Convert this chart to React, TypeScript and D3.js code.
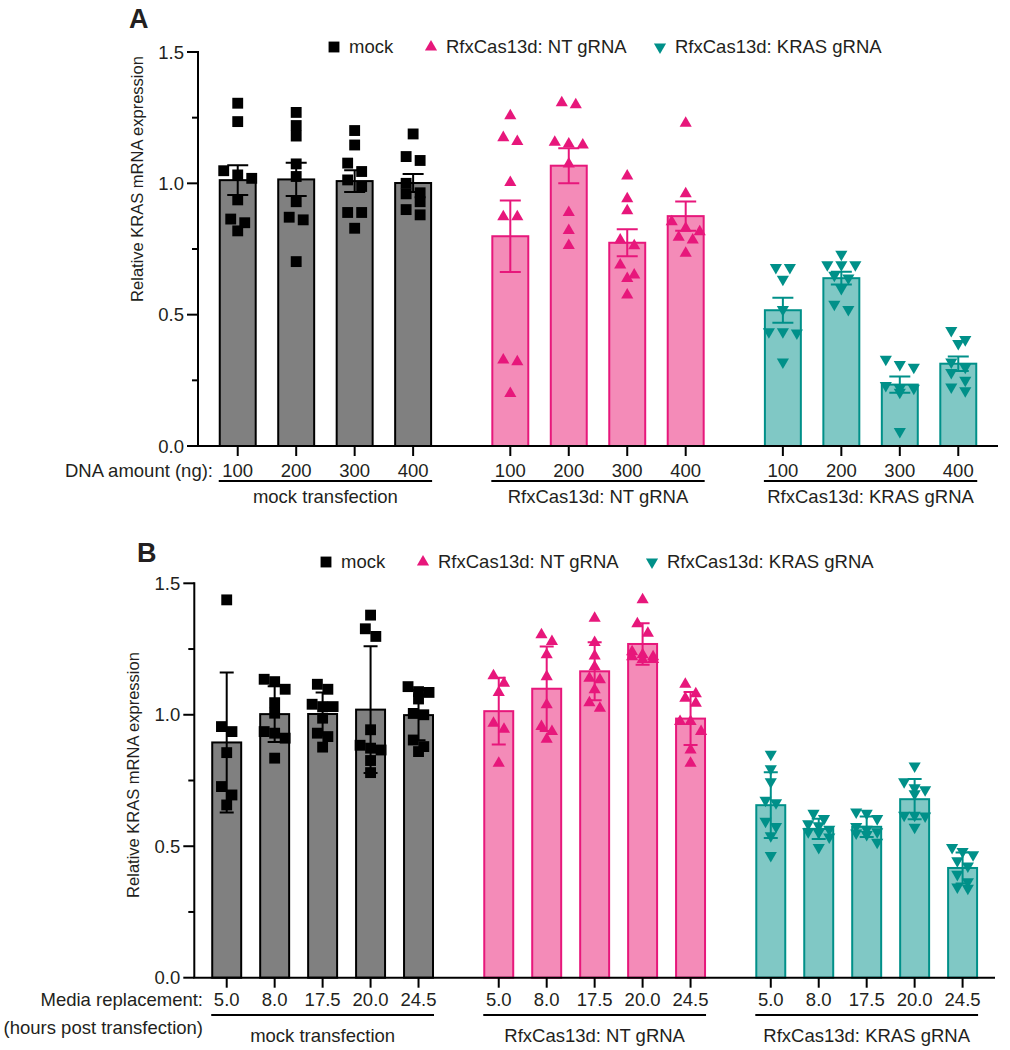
import React from "react";
import * as d3 from "d3";

// ---- data ----
const groupLabels = ["mock transfection", "RfxCas13d: NT gRNA", "RfxCas13d: KRAS gRNA"];
const legendLabels = ["mock", "RfxCas13d: NT gRNA", "RfxCas13d: KRAS gRNA"];
const dnaAmounts = ["100", "200", "300", "400"];
const mediaHours = ["5.0", "8.0", "17.5", "20.0", "24.5"];
const yTicks = [0, 0.5, 1.0, 1.5];
const yMinorTicks = [0.25, 0.75, 1.25];

// panel A: relative KRAS mRNA per DNA amount (mean +/- SEM)
const mockDna = [
  [1.305, 1.235, 1.048, 1.032, 1.019, 0.937, 0.864, 0.85, 0.819],
  [1.27, 1.22, 1.18, 1.074, 1.026, 0.93, 0.871, 0.861, 0.702],
  [1.201, 1.146, 1.077, 1.045, 1.013, 0.988, 0.889, 0.889, 0.829],
  [1.188, 1.102, 1.087, 1.0, 0.96, 0.964, 0.93, 0.9, 0.88]
];
const ntDna = [
  [1.257, 1.174, 1.159, 1.003, 0.873, 0.873, 0.327, 0.321, 0.2],
  [1.307, 1.299, 1.156, 1.15, 1.146, 1.074, 0.889, 0.82, 0.763],
  [1.028, 0.941, 0.896, 0.784, 0.762, 0.689, 0.651, 0.638, 0.575],
  [1.229, 0.96, 0.854, 0.829, 0.816, 0.795, 0.784, 0.734]
];
const krasDna = [
  [0.68, 0.68, 0.635, 0.52, 0.435, 0.43, 0.435, 0.32],
  [0.73, 0.69, 0.69, 0.69, 0.65, 0.64, 0.6, 0.54, 0.52],
  [0.33, 0.3, 0.31, 0.23, 0.22, 0.22, 0.205, 0.055],
  [0.44, 0.405, 0.39, 0.32, 0.3, 0.28, 0.25, 0.225, 0.21]
];

// panel B: relative KRAS mRNA per media replacement time (mean +/- SD)
const mockMedia = [
  [1.437, 0.955, 0.936, 0.856, 0.727, 0.695, 0.657],
  [1.135, 1.126, 1.097, 1.046, 1.006, 0.936, 0.93, 0.911, 0.835],
  [1.116, 1.097, 1.04, 1.031, 1.031, 0.987, 0.93, 0.917, 0.877],
  [1.379, 1.327, 1.298, 0.943, 0.884, 0.873, 0.866, 0.826, 0.78],
  [1.107, 1.088, 1.085, 1.06, 1.005, 1.0, 0.904, 0.879, 0.86]
];
const ntMedia = [
  [1.148, 1.12, 1.085, 0.968, 0.945, 0.816],
  [1.304, 1.279, 1.228, 1.145, 1.038, 0.955, 0.936, 0.907],
  [1.367, 1.275, 1.224, 1.183, 1.139, 1.133, 1.095, 1.046, 1.025],
  [1.437, 1.346, 1.31, 1.24, 1.228, 1.221, 1.221, 1.21, 1.21],
  [1.116, 1.08, 1.063, 1.044, 0.974, 0.974, 0.936, 0.866, 0.816]
];
const krasMedia = [
  [0.85, 0.795, 0.745, 0.675, 0.665, 0.595, 0.575, 0.54, 0.465],
  [0.625, 0.605, 0.585, 0.578, 0.565, 0.555, 0.552, 0.535, 0.495],
  [0.63, 0.625, 0.605, 0.575, 0.565, 0.555, 0.55, 0.545, 0.515],
  [0.805, 0.745, 0.722, 0.715, 0.7, 0.618, 0.618, 0.615, 0.572],
  [0.495, 0.48, 0.468, 0.445, 0.425, 0.393, 0.365, 0.345, 0.34]
];

const FONT = "'Liberation Sans', Arial, Helvetica, sans-serif";

const styles = [
  { fill: "#808080", stroke: "#000000", symbol: "square" },
  { fill: "#f48bb8", stroke: "#e7177b", symbol: "up" },
  { fill: "#80c8c5", stroke: "#009089", symbol: "down" }
];

function symbolPath(kind: string, scale = 1) {
  if (kind === "square") return d3.symbol(d3.symbolSquare, 118 * scale)()!;
  return d3.symbol(d3.symbolTriangle, 64 * scale)()!;
}

// GraphPad-like column scatter: points of similar height share a row
function swarmOffsets(values: number[], y: (v: number) => number, step: number, thresh: number, maxCols = 3) {
  const order = d3.range(values.length).sort((a, b) => values[b] - values[a]);
  const offsets = new Array(values.length).fill(0);
  let row: number[] = [];
  const flush = () => {
    row.forEach((idx, i) => (offsets[idx] = (i - (row.length - 1) / 2) * step));
    row = [];
  };
  for (const idx of order) {
    if (row.length && (Math.abs(y(values[idx]) - y(values[row[0]])) >= thresh || row.length >= maxCols)) flush();
    row.push(idx);
  }
  flush();
  return offsets;
}

type PanelProps = {
  letter: string;
  letterPos: [number, number];
  data: number[][][];
  categories: string[];
  err: "sem" | "sd";
  left: number;
  right: number;
  top: number;
  bottom: number;
  groupPadIn: number;
  groupPadOut: number;
  barPad: number;
  legendY: number;
  legendX: number[];
  titleY: number;
  tickBaseline: number;
  lineY: number;
  groupBaseline: number;
  xTitle: string[];
  xTitleRight: number;
  xTitleGap: number;
  capW: number;
  swarmStep: number;
};

function Panel(p: PanelProps) {
  const y = d3.scaleLinear().domain([0, 1.5]).range([p.bottom, p.top]);
  const xg = d3.scaleBand<string>().domain(groupLabels).range([p.left, p.right])
    .paddingInner(p.groupPadIn).paddingOuter(p.groupPadOut);
  const xi = d3.scaleBand<string>().domain(p.categories).range([0, xg.bandwidth()])
    .paddingInner(p.barPad).paddingOuter(p.barPad / 2);
  const bw = xi.bandwidth();

  return (
    <g fontFamily={FONT}>
      <text x={p.letterPos[0]} y={p.letterPos[1]} fontSize={27} fontWeight="bold" fill="#231f20">{p.letter}</text>

      {/* legend */}
      {legendLabels.map((l, i) => (
        <g key={l}>
          <path d={symbolPath(styles[i].symbol, 1)}
            transform={`translate(${p.legendX[i]},${p.legendY})${styles[i].symbol === "down" ? " rotate(180)" : ""}`}
            fill={styles[i].stroke} />
          <text x={p.legendX[i] + 15} y={p.legendY} dy="0.35em" fontSize={18.5} fill="#231f20">{l}</text>
        </g>
      ))}

      {/* y title */}
      <text transform={`translate(${p.left - 61},${p.titleY}) rotate(-90)`} textAnchor="middle" dy="0.35em"
        fontSize={16.5} fill="#231f20">Relative KRAS mRNA expression</text>

      {/* bars, error bars, points */}
      {groupLabels.map((g, gi) => (
        <g key={g}>
          {p.data[gi].map((vals, ci) => {
            const cx = xg(g)! + xi(p.categories[ci])! + bw / 2;
            const m = d3.mean(vals)!;
            const sd = d3.deviation(vals)!;
            const e = p.err === "sem" ? sd / Math.sqrt(vals.length) : sd;
            const st = styles[gi];
            const offs = swarmOffsets(vals, y, p.swarmStep, 10.5);
            return (
              <g key={ci}>
                <rect x={cx - bw / 2} y={y(m)} width={bw} height={y(0) - y(m)} fill={st.fill} stroke={st.stroke} strokeWidth={2} />
                <path d={`M${cx},${y(m + e)}V${y(m - e)}M${cx - p.capW / 2},${y(m + e)}H${cx + p.capW / 2}M${cx - p.capW / 2},${y(m - e)}H${cx + p.capW / 2}`}
                  stroke={st.stroke} strokeWidth={2} fill="none" />
                {vals.map((v, k) => (
                  <path key={k} d={symbolPath(st.symbol)}
                    transform={`translate(${cx + offs[k]},${y(v)})${st.symbol === "down" ? " rotate(180)" : ""}`}
                    fill={st.stroke} />
                ))}
              </g>
            );
          })}
        </g>
      ))}

      {/* y axis */}
      <line x1={p.left} x2={p.left} y1={y(1.5) - 1} y2={y(0)} stroke="#000" strokeWidth={2} />
      {yTicks.map((t) => (
        <g key={t}>
          <line x1={p.left - 11} x2={p.left} y1={y(t)} y2={y(t)} stroke="#000" strokeWidth={2} />
          <text x={p.left - 14} y={y(t)} dy="0.36em" textAnchor="end" fontSize={18.5} fill="#231f20">{t.toFixed(1)}</text>
        </g>
      ))}
      {yMinorTicks.map((t) => (
        <line key={t} x1={p.left - 6} x2={p.left} y1={y(t)} y2={y(t)} stroke="#000" strokeWidth={2} />
      ))}

      {/* x axis */}
      <line x1={p.left - 1} x2={p.right} y1={y(0)} y2={y(0)} stroke="#000" strokeWidth={2} />
      {groupLabels.map((g) => (
        <g key={g}>
          {p.categories.map((c) => {
            const cx = xg(g)! + xi(c)! + bw / 2;
            return (
              <g key={c}>
                <line x1={cx} x2={cx} y1={y(0)} y2={y(0) + 10} stroke="#000" strokeWidth={2} />
                <text x={cx} y={p.tickBaseline} textAnchor="middle" fontSize={18.5} fill="#231f20">{c}</text>
              </g>
            );
          })}
          <line x1={xg(g)! + xi(p.categories[0])! - 1} x2={xg(g)! + xi(p.categories[p.categories.length - 1])! + bw + 1}
            y1={p.lineY} y2={p.lineY} stroke="#000" strokeWidth={2} />
          <text x={xg(g)! + xg.bandwidth() / 2} y={p.groupBaseline} textAnchor="middle" fontSize={18.5} fill="#231f20">{g}</text>
        </g>
      ))}
      {p.xTitle.map((t, i) => (
        <text key={t} x={p.xTitleRight} y={p.tickBaseline + i * p.xTitleGap} textAnchor="end" fontSize={18.5} fill="#231f20">{t}</text>
      ))}
    </g>
  );
}

export default function App() {
  return (
    <div style={{ position: "absolute", left: 0, top: 0 }}>
      <svg width={1010} height={1050} style={{ display: "block", background: "#fff" }}>
        <Panel letter="A" letterPos={[129, 28]} data={[mockDna, ntDna, krasDna]} categories={dnaAmounts} err="sem"
          left={198} right={998} top={52} bottom={446} groupPadIn={0.142} groupPadOut={0.0385} barPad={0.385}
          legendY={47} legendX={[334, 431, 660]} titleY={179} tickBaseline={477} lineY={481} groupBaseline={503}
          xTitle={["DNA amount (ng):"]} xTitleRight={213} xTitleGap={0} capW={21} swarmStep={14} />
        <Panel letter="B" letterPos={[137, 562]} data={[mockMedia, ntMedia, krasMedia]} categories={mediaHours} err="sd"
          left={194.3} right={995} top={583.3} bottom={977.7} groupPadIn={0.1186} groupPadOut={0.031} barPad={0.396}
          legendY={562} legendX={[326, 423, 652]} titleY={775} tickBaseline={1006} lineY={1015} groupBaseline={1042}
          xTitle={["Media replacement:", "(hours post transfection)"]} xTitleRight={203} xTitleGap={28} capW={14} swarmStep={10.5} />
      </svg>
    </div>
  );
}
